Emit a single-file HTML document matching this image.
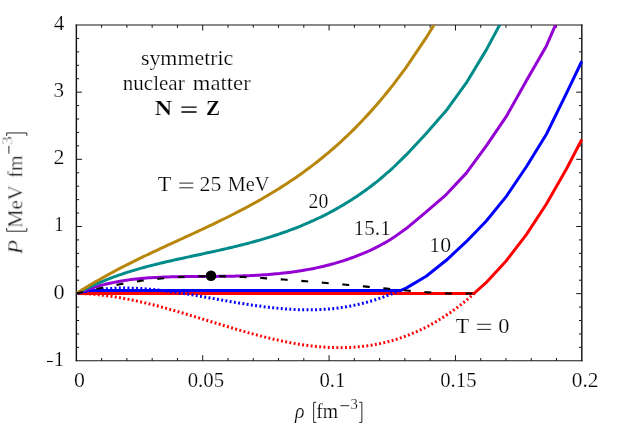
<!DOCTYPE html>
<html><head><meta charset="utf-8"><title>Pressure isotherms of symmetric nuclear matter</title>
<style>
html,body{margin:0;padding:0;background:#fff;}
body{width:619px;height:433px;overflow:hidden;font-family:"Liberation Serif",serif;}
svg{display:block;}
</style></head><body>
<svg width="619" height="433" viewBox="0 0 619 433">
<rect width="619" height="433" fill="#fff"/>
<defs><clipPath id="c"><rect x="75.55" y="25.00" width="509.45" height="337.80"/></clipPath></defs>
<g stroke="#161616" fill="none">
<path stroke-width="1.05" d="M75.75 25.00H582.50M75.75 360.80H582.50"/>
<path stroke-width="1.45" d="M76.35 24.50V361.30M581.80 24.50V361.30"/>
<path stroke-width="1.0" d="M101.62 360.80v-2.80M101.62 25.00v2.80M126.89 360.80v-2.80M126.89 25.00v2.80M152.17 360.80v-2.80M152.17 25.00v2.80M177.44 360.80v-2.80M177.44 25.00v2.80M202.71 360.80v-5.60M202.71 25.00v5.60M227.98 360.80v-2.80M227.98 25.00v2.80M253.26 360.80v-2.80M253.26 25.00v2.80M278.53 360.80v-2.80M278.53 25.00v2.80M303.80 360.80v-2.80M303.80 25.00v2.80M329.07 360.80v-5.60M329.07 25.00v5.60M354.35 360.80v-2.80M354.35 25.00v2.80M379.62 360.80v-2.80M379.62 25.00v2.80M404.89 360.80v-2.80M404.89 25.00v2.80M430.16 360.80v-2.80M430.16 25.00v2.80M455.44 360.80v-5.60M455.44 25.00v5.60M480.71 360.80v-2.80M480.71 25.00v2.80M505.98 360.80v-2.80M505.98 25.00v2.80M531.25 360.80v-2.80M531.25 25.00v2.80M556.53 360.80v-2.80M556.53 25.00v2.80M76.35 347.37h2.80M581.80 347.37h-2.80M76.35 333.94h2.80M581.80 333.94h-2.80M76.35 320.50h2.80M581.80 320.50h-2.80M76.35 307.07h2.80M581.80 307.07h-2.80M76.35 293.64h5.60M581.80 293.64h-5.60M76.35 280.21h2.80M581.80 280.21h-2.80M76.35 266.78h2.80M581.80 266.78h-2.80M76.35 253.34h2.80M581.80 253.34h-2.80M76.35 239.91h2.80M581.80 239.91h-2.80M76.35 226.48h5.60M581.80 226.48h-5.60M76.35 213.05h2.80M581.80 213.05h-2.80M76.35 199.62h2.80M581.80 199.62h-2.80M76.35 186.18h2.80M581.80 186.18h-2.80M76.35 172.75h2.80M581.80 172.75h-2.80M76.35 159.32h5.60M581.80 159.32h-5.60M76.35 145.89h2.80M581.80 145.89h-2.80M76.35 132.46h2.80M581.80 132.46h-2.80M76.35 119.02h2.80M581.80 119.02h-2.80M76.35 105.59h2.80M581.80 105.59h-2.80M76.35 92.16h5.60M581.80 92.16h-5.60M76.35 78.73h2.80M581.80 78.73h-2.80M76.35 65.30h2.80M581.80 65.30h-2.80M76.35 51.86h2.80M581.80 51.86h-2.80M76.35 38.43h2.80M581.80 38.43h-2.80"/>
</g>
<g clip-path="url(#c)" fill="none" stroke-width="3" stroke-linejoin="round">
<polyline points="76.30,293.50 78.80,293.54 81.30,293.61 83.80,293.71 86.30,293.83 88.80,293.97 91.30,294.14 93.80,294.34 96.30,294.56 98.80,294.80 101.30,295.06 103.80,295.35 106.30,295.66 108.80,295.99 111.30,296.34 113.80,296.72 116.30,297.11 118.80,297.52 121.30,297.95 123.80,298.40 126.30,298.86 128.80,299.35 131.30,299.85 133.80,300.37 136.30,300.90 138.80,301.45 141.30,302.01 143.80,302.59 146.30,303.18 148.80,303.79 151.30,304.40 153.80,305.03 156.30,305.68 158.80,306.33 161.30,306.99 163.80,307.67 166.30,308.35 168.80,309.05 171.30,309.75 173.80,310.46 176.30,311.18 178.80,311.90 181.30,312.63 183.80,313.37 186.30,314.11 188.80,314.86 191.30,315.61 193.80,316.37 196.30,317.13 198.80,317.89 201.30,318.65 203.80,319.42 206.30,320.18 208.80,320.95 211.30,321.72 213.80,322.48 216.30,323.25 218.80,324.01 221.30,324.77 223.80,325.53 226.30,326.28 228.80,327.03 231.30,327.78 233.80,328.52 236.30,329.25 238.80,329.98 241.30,330.70 243.80,331.42 246.30,332.12 248.80,332.82 251.30,333.51 253.80,334.19 256.30,334.86 258.80,335.52 261.30,336.17 263.80,336.80 266.30,337.42 268.80,338.03 271.30,338.63 273.80,339.21 276.30,339.78 278.80,340.34 281.30,340.87 283.80,341.39 286.30,341.90 288.80,342.39 291.30,342.86 293.80,343.31 296.30,343.74 298.80,344.15 301.30,344.54 303.80,344.92 306.30,345.27 308.80,345.60 311.30,345.90 313.80,346.19 316.30,346.45 318.80,346.68 321.30,346.89 323.80,347.08 326.30,347.24 328.80,347.38 331.30,347.48 333.80,347.57 336.30,347.62 338.80,347.64 341.30,347.64 343.80,347.61 346.30,347.54 348.80,347.45 351.30,347.33 353.80,347.17 356.30,346.98 358.80,346.77 361.30,346.51 363.80,346.23 366.30,345.91 368.80,345.56 371.30,345.17 373.80,344.75 376.30,344.30 378.80,343.80 381.30,343.28 383.80,342.71 386.30,342.11 388.80,341.47 391.30,340.79 393.80,340.07 396.30,339.32 398.80,338.52 401.30,337.68 403.80,336.81 406.30,335.89 408.80,334.93 411.30,333.93 413.80,332.89 416.30,331.80 418.80,330.67 421.30,329.50 423.80,328.28 426.30,327.01 428.80,325.71 431.30,324.35 433.80,322.95 436.30,321.51 438.80,320.01 441.30,318.47 443.80,316.88 446.30,315.24 448.80,313.56 451.30,311.82 453.80,310.03 456.30,308.20 458.80,306.31 461.30,304.37 463.80,302.38 466.30,300.33 468.80,298.24 471.30,296.09 473.80,293.89 474.00,293.50" stroke="#ff0000" stroke-dasharray="1.9 2.4"/>
<polyline points="76.30,293.50 474.00,293.50 486.30,282.42 506.33,260.73 526.36,234.56 546.39,203.96 566.42,169.03 581.80,139.47" stroke="#ff0000"/>
<polyline points="76.30,293.50 82.00,291.80 88.00,290.45 400.90,290.45 406.18,288.11 426.21,276.22 446.24,260.29 466.27,241.68 486.30,221.04 506.33,196.32 526.36,166.76 546.39,134.27 566.42,93.41 581.80,61.27" stroke="#0000ff"/>
<polyline points="76.30,293.50 78.80,292.91 81.30,292.36 83.80,291.84 86.30,291.36 88.80,290.92 91.30,290.51 93.80,290.13 96.30,289.79 98.80,289.48 101.30,289.20 103.80,288.96 106.30,288.74 108.80,288.56 111.30,288.40 113.80,288.28 116.30,288.18 118.80,288.11 121.30,288.06 123.80,288.04 126.30,288.05 128.80,288.08 131.30,288.13 133.80,288.21 136.30,288.30 138.80,288.42 141.30,288.57 143.80,288.73 146.30,288.91 148.80,289.11 151.30,289.33 153.80,289.56 156.30,289.81 158.80,290.08 161.30,290.37 163.80,290.66 166.30,290.98 168.80,291.30 171.30,291.64 173.80,291.99 176.30,292.35 178.80,292.72 181.30,293.10 183.80,293.49 186.30,293.89 188.80,294.30 191.30,294.71 193.80,295.13 196.30,295.56 198.80,295.99 201.30,296.42 203.80,296.86 206.30,297.30 208.80,297.74 211.30,298.19 213.80,298.63 216.30,299.08 218.80,299.52 221.30,299.96 223.80,300.40 226.30,300.84 228.80,301.28 231.30,301.71 233.80,302.13 236.30,302.56 238.80,302.97 241.30,303.38 243.80,303.78 246.30,304.18 248.80,304.57 251.30,304.94 253.80,305.31 256.30,305.67 258.80,306.02 261.30,306.36 263.80,306.68 266.30,307.00 268.80,307.30 271.30,307.58 273.80,307.85 276.30,308.11 278.80,308.35 281.30,308.58 283.80,308.79 286.30,308.98 288.80,309.15 291.30,309.31 293.80,309.44 296.30,309.56 298.80,309.66 301.30,309.73 303.80,309.79 306.30,309.82 308.80,309.83 311.30,309.81 313.80,309.77 316.30,309.71 318.80,309.62 321.30,309.51 323.80,309.36 326.30,309.20 328.80,309.00 331.30,308.78 333.80,308.52 336.30,308.24 338.80,307.93 341.30,307.59 343.80,307.21 346.30,306.81 348.80,306.37 351.30,305.90 353.80,305.39 356.30,304.86 358.80,304.29 361.30,303.69 363.80,303.06 366.30,302.40 368.80,301.70 371.30,300.98 373.80,300.22 376.30,299.43 378.80,298.60 381.30,297.75 383.80,296.86 386.30,295.94 388.80,294.99 391.30,294.01 393.80,292.99 396.30,291.95 398.80,290.87 400.90,290.45" stroke="#0000ff" stroke-dasharray="1.9 2.4"/>
<polyline points="76.30,293.50 78.80,292.50 81.30,291.54 83.80,290.63 86.30,289.75 88.80,288.92 91.30,288.12 93.80,287.36 96.30,286.64 98.80,285.96 101.30,285.31 103.80,284.66 106.30,284.05 108.80,283.47 111.30,282.92 113.80,282.40 116.30,281.91 118.80,281.45 121.30,281.02 123.80,280.61 126.30,280.23 128.80,279.88 131.30,279.55 133.80,279.24 136.30,278.96 138.80,278.70 141.30,278.45 143.80,278.23 146.30,278.03 148.80,277.84 151.30,277.67 153.80,277.52 156.30,277.39 158.80,277.26 161.30,277.15 163.80,277.06 166.30,276.97 168.80,276.90 171.30,276.83 173.80,276.78 176.30,276.73 178.80,276.69 181.30,276.66 183.80,276.63 186.30,276.60 188.80,276.58 191.30,276.56 193.80,276.55 196.30,276.53 198.80,276.52 201.30,276.50 203.80,276.49 206.30,276.47 208.80,276.46 211.30,276.44 213.80,276.42 216.30,276.40 218.80,276.37 221.30,276.34 223.80,276.31 226.30,276.28 228.80,276.23 231.30,276.19 233.80,276.13 236.30,276.08 238.80,276.01 241.30,275.94 243.80,275.85 246.30,275.76 248.80,275.67 251.30,275.56 253.80,275.44 256.30,275.31 258.80,275.17 261.30,275.02 263.80,274.86 266.30,274.69 268.80,274.50 271.30,274.30 273.80,274.09 276.30,273.86 278.80,273.62 281.30,273.36 283.80,273.09 286.30,272.80 288.80,272.49 291.30,272.17 293.80,271.83 296.30,271.47 298.80,271.09 301.30,270.70 303.80,270.28 306.30,269.85 308.80,269.39 311.30,268.91 313.80,268.42 316.30,267.90 318.80,267.35 321.30,266.79 323.80,266.20 326.30,265.58 328.80,264.95 331.30,264.28 333.80,263.60 336.30,262.88 338.80,262.14 341.30,261.38 343.80,260.58 346.30,259.76 348.80,258.91 351.30,258.03 353.80,257.13 356.30,256.19 358.80,255.22 361.30,254.22 363.80,253.18 366.30,252.11 368.80,251.00 371.30,249.85 373.80,248.65 376.30,247.42 378.80,246.13 381.30,244.80 383.80,243.42 386.30,241.99 388.80,240.50 391.30,238.96 393.80,237.36 406.18,228.54 426.21,211.94 446.24,194.51 466.27,173.12 486.30,145.96 506.33,116.42 526.36,80.76 546.39,45.89 562.00,10.02" stroke="#9400d3"/>
<polyline points="76.30,293.50 78.80,292.19 81.30,290.91 83.80,289.67 86.30,288.46 88.80,287.29 91.30,286.15 93.80,285.04 96.30,283.96 98.80,282.91 101.30,281.89 103.80,280.85 106.30,279.84 108.80,278.86 111.30,277.90 113.80,276.96 116.30,276.06 118.80,275.17 121.30,274.31 123.80,273.47 126.30,272.65 128.80,271.85 131.30,271.08 133.80,270.32 136.30,269.58 138.80,268.85 141.30,268.15 143.80,267.46 146.30,266.78 148.80,266.12 151.30,265.48 153.80,264.84 156.30,264.22 158.80,263.61 161.30,263.01 163.80,262.42 166.30,261.83 168.80,261.26 171.30,260.69 173.80,260.13 176.30,259.57 178.80,259.02 181.30,258.48 183.80,257.93 186.30,257.39 188.80,256.85 191.30,256.32 193.80,255.78 196.30,255.24 198.80,254.71 201.30,254.17 203.80,253.63 206.30,253.09 208.80,252.55 211.30,252.00 213.80,251.45 216.30,250.89 218.80,250.34 221.30,249.77 223.80,249.20 226.30,248.63 228.80,248.04 231.30,247.45 233.80,246.86 236.30,246.25 238.80,245.64 241.30,245.01 243.80,244.38 246.30,243.73 248.80,243.08 251.30,242.41 253.80,241.73 256.30,241.04 258.80,240.33 261.30,239.61 263.80,238.88 266.30,238.13 268.80,237.36 271.30,236.58 273.80,235.79 276.30,234.97 278.80,234.14 281.30,233.29 283.80,232.42 286.30,231.54 288.80,230.63 291.30,229.70 293.80,228.75 296.30,227.78 298.80,226.79 301.30,225.78 303.80,224.74 306.30,223.68 308.80,222.60 311.30,221.49 313.80,220.36 316.30,219.20 318.80,218.01 321.30,216.80 323.80,215.56 326.30,214.29 328.80,213.00 331.30,211.67 333.80,210.32 336.30,208.93 338.80,207.52 341.30,206.07 343.80,204.59 346.30,203.08 348.80,201.53 351.30,199.95 353.80,198.34 356.30,196.69 358.80,195.00 361.30,193.27 363.80,191.50 366.30,189.70 368.80,187.85 371.30,185.96 373.80,184.03 376.30,182.06 378.80,180.05 381.30,177.99 383.80,175.88 386.30,173.73 388.80,171.54 391.30,169.29 393.80,167.00 406.18,154.91 426.21,133.43 446.24,110.60 466.27,82.99 486.30,49.88 507.00,11.24" stroke="#008b8b"/>
<polyline points="76.30,293.50 78.80,291.89 81.30,290.32 83.80,288.77 86.30,287.24 88.80,285.74 91.30,284.26 93.80,282.80 96.30,281.36 98.80,279.95 101.30,278.55 103.80,277.13 106.30,275.72 108.80,274.33 111.30,272.96 113.80,271.61 116.30,270.27 118.80,268.95 121.30,267.64 123.80,266.35 126.30,265.07 128.80,263.80 131.30,262.55 133.80,261.31 136.30,260.07 138.80,258.85 141.30,257.64 143.80,256.44 146.30,255.24 148.80,254.05 151.30,252.87 153.80,251.69 156.30,250.52 158.80,249.36 161.30,248.20 163.80,247.04 166.30,245.88 168.80,244.73 171.30,243.58 173.80,242.43 176.30,241.29 178.80,240.14 181.30,238.99 183.80,237.84 186.30,236.70 188.80,235.55 191.30,234.40 193.80,233.24 196.30,232.08 198.80,230.92 201.30,229.76 203.80,228.59 206.30,227.41 208.80,226.23 211.30,225.04 213.80,223.85 216.30,222.65 218.80,221.44 221.30,220.22 223.80,218.99 226.30,217.76 228.80,216.51 231.30,215.26 233.80,213.99 236.30,212.71 238.80,211.42 241.30,210.12 243.80,208.80 246.30,207.47 248.80,206.13 251.30,204.77 253.80,203.39 256.30,202.00 258.80,200.60 261.30,199.18 263.80,197.74 266.30,196.28 268.80,194.80 271.30,193.31 273.80,191.79 276.30,190.26 278.80,188.70 281.30,187.13 283.80,185.53 286.30,183.91 288.80,182.27 291.30,180.60 293.80,178.91 296.30,177.19 298.80,175.45 301.30,173.68 303.80,171.88 306.30,170.06 308.80,168.21 311.30,166.33 313.80,164.42 316.30,162.48 318.80,160.51 321.30,158.51 323.80,156.47 326.30,154.41 328.80,152.31 331.30,150.17 333.80,148.00 336.30,145.80 338.80,143.56 341.30,141.28 343.80,138.97 346.30,136.62 348.80,134.23 351.30,131.80 353.80,129.33 356.30,126.82 358.80,124.27 361.30,121.68 363.80,119.04 366.30,116.36 368.80,113.64 371.30,110.88 373.80,108.07 376.30,105.21 378.80,102.31 381.30,99.36 383.80,96.37 386.30,93.32 388.80,90.23 391.30,87.09 393.80,83.90 406.18,67.33 426.21,37.71 440.00,15.13" stroke="#b8860b"/>
<polyline points="76.30,293.50 78.80,292.93 81.30,292.35 83.80,291.78 86.30,291.21 88.80,290.65 91.30,290.09 93.80,289.54 96.30,288.99 98.80,288.45 101.30,287.92 103.80,287.39 106.30,286.88 108.80,286.37 111.30,285.87 113.80,285.38 116.30,284.90 118.80,284.44 121.30,283.98 123.80,283.54 126.30,283.11 128.80,282.70 131.30,282.29 133.80,281.90 136.30,281.52 138.80,281.16 141.30,280.80 143.80,280.46 146.30,280.13 148.80,279.82 151.30,279.52 153.80,279.23 156.30,278.95 158.80,278.69 161.30,278.44 163.80,278.20 166.30,277.98 168.80,277.77 171.30,277.57 173.80,277.39 176.30,277.22 178.80,277.07 181.30,276.92 183.80,276.80 186.30,276.68 188.80,276.58 191.30,276.49 193.80,276.41 196.30,276.35 198.80,276.29 201.30,276.25 203.80,276.22 206.30,276.20 208.80,276.19 211.30,276.20 213.80,276.21 216.30,276.23 218.80,276.26 221.30,276.30 223.80,276.36 226.30,276.41 228.80,276.48 231.30,276.56 233.80,276.64 236.30,276.73 238.80,276.83 241.30,276.94 243.80,277.05 246.30,277.17 248.80,277.30 251.30,277.43 253.80,277.57 256.30,277.71 258.80,277.86 261.30,278.01 263.80,278.17 266.30,278.33 268.80,278.50 271.30,278.67 273.80,278.84 276.30,279.02 278.80,279.20 281.30,279.38 283.80,279.57 286.30,279.75 288.80,279.94 291.30,280.13 293.80,280.32 296.30,280.52 298.80,280.71 301.30,280.91 303.80,281.11 306.30,281.31 308.80,281.52 311.30,281.72 313.80,281.93 316.30,282.14 318.80,282.35 321.30,282.56 323.80,282.77 326.30,282.99 328.80,283.20 331.30,283.42 333.80,283.64 336.30,283.86 338.80,284.08 341.30,284.31 343.80,284.53 346.30,284.76 348.80,284.99 351.30,285.22 353.80,285.45 356.30,285.68 358.80,285.91 361.30,286.15 363.80,286.38 366.30,286.62 368.80,286.86 371.30,287.10 373.80,287.34 376.30,287.58 378.80,287.82 381.30,288.06 383.80,288.31 386.30,288.55 388.80,288.80 391.30,289.05 393.80,289.29 396.30,289.54 398.80,289.79 401.30,290.03 403.80,290.27 406.30,290.51 408.80,290.74 411.30,290.97 413.80,291.19 416.30,291.41 418.80,291.62 421.30,291.83 423.80,292.03 426.30,292.22 428.80,292.40 431.30,292.57 433.80,292.73 436.30,292.88 438.80,293.02 441.30,293.14 443.80,293.26 446.30,293.36 448.80,293.44 451.30,293.51 453.80,293.57 456.30,293.61 458.80,293.64 461.30,293.64 463.80,293.63 466.30,293.60 468.80,293.56 471.30,293.49 473.80,293.40 474.00,293.39" stroke="#000" stroke-width="2.1" stroke-dasharray="6.9 13.7"/>
</g>
<circle cx="211" cy="275.8" r="5.3" fill="#000"/>
<g font-family="'Liberation Serif', serif" font-size="20.5" fill="#000" opacity="0.999" stroke="#fff" stroke-width="0.22">
<text x="140.91" y="64.90" textLength="92.41" lengthAdjust="spacingAndGlyphs" font-size="20.0">symmetric</text>
<text x="122.78" y="89.90" textLength="61.92" lengthAdjust="spacingAndGlyphs" font-size="20.0">nuclear</text>
<text x="192.83" y="89.90" textLength="57.86" lengthAdjust="spacingAndGlyphs" font-size="20.0">matter</text>
<text x="154.76" y="114.60" textLength="17.43" lengthAdjust="spacingAndGlyphs" font-weight="bold">N</text>
<text x="206.14" y="114.60" textLength="14.11" lengthAdjust="spacingAndGlyphs" font-weight="bold">Z</text>
<text x="157.70" y="191.30" textLength="13.64" lengthAdjust="spacingAndGlyphs">T</text>
<text x="199.53" y="191.30" textLength="21.73" lengthAdjust="spacingAndGlyphs">25</text>
<text x="227.84" y="191.30" textLength="41.67" lengthAdjust="spacingAndGlyphs">MeV</text>
<text x="308.59" y="208.40" textLength="19.69" lengthAdjust="spacingAndGlyphs">20</text>
<text x="353.64" y="235.00" textLength="37.12" lengthAdjust="spacingAndGlyphs">15.1</text>
<text x="429.30" y="252.20" textLength="21.72" lengthAdjust="spacingAndGlyphs">10</text>
<text x="455.68" y="332.80" textLength="13.50" lengthAdjust="spacingAndGlyphs">T</text>
<text x="498.26" y="332.90" textLength="11.18" lengthAdjust="spacingAndGlyphs">0</text>
<text x="73.94" y="386.90" textLength="10.90" lengthAdjust="spacingAndGlyphs">0</text>
<text x="187.73" y="386.90" textLength="36.39" lengthAdjust="spacingAndGlyphs">0.05</text>
<text x="319.40" y="386.90" textLength="25.93" lengthAdjust="spacingAndGlyphs">0.1</text>
<text x="440.19" y="386.90" textLength="36.37" lengthAdjust="spacingAndGlyphs">0.15</text>
<text x="571.71" y="386.90" textLength="26.70" lengthAdjust="spacingAndGlyphs">0.2</text>
<text x="53.76" y="29.90" textLength="10.52" lengthAdjust="spacingAndGlyphs">4</text>
<text x="53.58" y="97.10" textLength="10.56" lengthAdjust="spacingAndGlyphs">3</text>
<text x="53.54" y="164.20" textLength="10.97" lengthAdjust="spacingAndGlyphs">2</text>
<text x="53.90" y="231.40" textLength="9.82" lengthAdjust="spacingAndGlyphs">1</text>
<text x="53.51" y="298.60" textLength="11.10" lengthAdjust="spacingAndGlyphs">0</text>
<text x="53.80" y="365.90" textLength="10.37" lengthAdjust="spacingAndGlyphs">1</text>
<text x="294.96" y="417.70" textLength="9.49" lengthAdjust="spacingAndGlyphs" font-style="italic">ρ</text>
<text x="316.20" y="417.70" textLength="21.87" lengthAdjust="spacingAndGlyphs">fm</text>
<text x="350.52" y="409.30" textLength="7.35" lengthAdjust="spacingAndGlyphs" font-size="13.8">3</text>
<g transform="translate(22.3,254.25) rotate(-90)" stroke-width="0.4">
<text x="-0.11" y="0.00" textLength="14.30" lengthAdjust="spacingAndGlyphs" font-style="italic">P</text>
<text x="26.16" y="0.00" textLength="42.76" lengthAdjust="spacingAndGlyphs">MeV</text>
<text x="76.54" y="0.00" textLength="22.15" lengthAdjust="spacingAndGlyphs">fm</text>
<text x="109.15" y="-10.00" textLength="8.73" lengthAdjust="spacingAndGlyphs" font-size="13.8">3</text>
</g>
</g>
<path d="M179.40 183.10H193.30M179.40 187.80H193.30M477.10 324.30H491.10M477.10 329.40H491.10M340.40 405.70H349.30M316.3 402.25H313.65V422.45H316.3M359.2 402.25H361.85V422.45H359.2" fill="none" stroke="#000" stroke-width="0.85"/>
<path transform="translate(22.3,254.25) rotate(-90)" d="M100.60 -13.40H108.40M26.2 -15.6H23.05V4.55H26.2M118.4 -15.6H121.3V4.55H118.4" fill="none" stroke="#000" stroke-width="0.85"/>
<path d="M46.90 361.50H52.80" fill="none" stroke="#000" stroke-width="1.1"/>
<path d="M181.40 107.10H196.60M181.40 112.00H196.60" fill="none" stroke="#000" stroke-width="1.45"/>
</svg>
</body></html>
